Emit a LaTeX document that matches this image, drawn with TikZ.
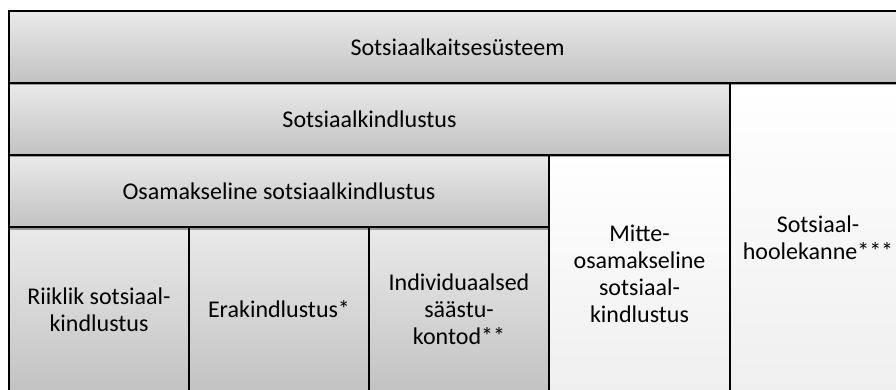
\documentclass[tikz,border=0pt]{standalone}
\usepackage{fontspec}
\setmainfont{Carlito}
\usetikzlibrary{shadows}
\definecolor{cA}{HTML}{EAEAEA}
\definecolor{cB}{HTML}{C2C2C2}
\definecolor{cC}{HTML}{EFEFEF}
\begin{document}
\begin{tikzpicture}[x=1pt,y=-1pt,
  box/.style={draw=black, line width=1.2pt, inner sep=0pt, align=center,
    font=\fontsize{24}{27}\selectfont, rectangle,
    drop shadow={shadow xshift=0pt, shadow yshift=-2.5pt, opacity=0.35, fill=black}},
  graybox/.style={box, top color=cA, bottom color=cB},
  whitebox/.style={box, top color=white, bottom color=cC}]
\useasboundingbox (0,0) rectangle (896,390);
\fill[white] (0,0) rectangle (896,390);
\clip (0,0) rectangle (896,390);
\node[graybox, minimum width=180pt, minimum height=165pt] (rsk) at (99,309.5) {Riiklik sotsiaal-\\kindlustus};
\node[graybox, minimum width=180pt, minimum height=165pt] (ek) at (279,309.5) {Erakindlustus*};
\node[graybox, minimum width=180pt, minimum height=165pt] (ik) at (459,309.5) {Individuaalsed\\säästu-\\kontod**};
\node[whitebox, minimum width=181pt, minimum height=237pt] (mosk) at (639.5,273.5) {Mitte-\\osamakseline\\sotsiaal-\\kindlustus};
\node[graybox, minimum width=540pt, minimum height=72pt] (osk) at (279,191) {Osamakseline sotsiaalkindlustus};
\node[whitebox, minimum width=176pt, minimum height=309pt] (sh) at (818,237.5) {Sotsiaal-\\hoolekanne***};
\node[graybox, minimum width=721pt, minimum height=72pt] (sk) at (369.5,119) {Sotsiaalkindlustus};
\node[graybox, minimum width=897pt, minimum height=72pt] (sys) at (457.5,47) {Sotsiaalkaitsesüsteem};
\end{tikzpicture}
\end{document}
